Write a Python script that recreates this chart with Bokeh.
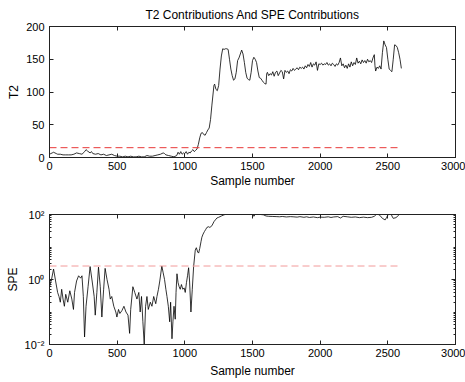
from bokeh.plotting import figure
from bokeh.layouts import column
from bokeh.models import FixedTicker, LinearAxis, LogAxis, Range1d
from bokeh.embed import file_html
from bokeh.resources import INLINE

# ---------------- data ----------------
t2_x = [0, 10, 20, 30, 40, 50, 60, 80, 100, 120, 140, 160, 180, 200, 220, 240, 260, 270, 280, 300,
        310, 320, 340, 360, 380, 400, 420, 440, 460, 480, 500, 520, 540, 560, 580, 600, 620, 640, 660, 680,
        700, 720, 740, 760, 780, 800, 820, 840, 850, 860, 880, 900, 920, 940, 950, 960, 970, 980, 990, 1000,
        1010, 1020, 1030, 1040, 1050, 1060, 1070, 1080, 1090, 1100, 1110, 1120, 1130, 1140, 1150, 1160, 1170, 1180, 1190, 1200,
        1210, 1215, 1220, 1230, 1240, 1250, 1260, 1270, 1280, 1290, 1300, 1310, 1320, 1330, 1340, 1350, 1360, 1370, 1380, 1390,
        1400, 1410, 1420, 1430, 1440, 1450, 1460, 1470, 1480, 1490, 1500, 1510, 1520, 1530, 1540, 1550, 1560, 1570, 1580, 1590,
        1600, 1605, 1610, 1620, 1630, 1640, 1650, 1660, 1670, 1680, 1690, 1700, 1710, 1720, 1730, 1740, 1750, 1760, 1770, 1780,
        1790, 1800, 1810, 1820, 1830, 1840, 1850, 1860, 1870, 1880, 1890, 1900, 1910, 1920, 1930, 1940, 1950, 1960, 1970, 1980,
        1990, 2000, 2010, 2020, 2030, 2040, 2050, 2060, 2070, 2080, 2090, 2100, 2110, 2120, 2130, 2140, 2150, 2160, 2170, 2180,
        2190, 2200, 2210, 2220, 2230, 2240, 2250, 2260, 2270, 2280, 2290, 2300, 2310, 2320, 2330, 2340, 2350, 2360, 2370, 2380,
        2390, 2400, 2405, 2410, 2420, 2430, 2440, 2450, 2460, 2470, 2480, 2490, 2500, 2510, 2520, 2530, 2540, 2550, 2560, 2570,
        2580, 2590, 2600]
t2_y = [5, 6, 7, 8, 7, 6, 5, 5, 4, 4, 4, 4, 5, 7, 6, 5, 9, 12, 10, 7,
        9, 6, 5, 6, 4, 5, 3, 4, 5, 3, 2, 2, 1, 2, 1, 2, 1, 1, 2, 1,
        1, 3, 2, 2, 3, 4, 5, 7, 6, 4, 3, 2, 1, 3, 8, 5, 9, 5, 7, 6,
        9, 5, 8, 7, 10, 12, 9, 11, 13, 20, 30, 37, 38, 35, 34, 38, 42, 45, 58, 80,
        100, 110, 112, 104, 102, 110, 135, 155, 166, 165, 166, 166, 165, 150, 135, 125, 118, 120, 130, 148,
        152, 158, 164, 158, 145, 130, 121, 119, 118, 130, 148, 153, 150, 145, 132, 122, 121, 118, 115, 113,
        112, 128, 130, 125, 128, 126, 131, 124, 130, 132, 125, 129, 133, 131, 120, 133, 130, 132, 128, 134,
        132, 136, 133, 135, 137, 134, 138, 136, 138, 135, 140, 137, 142, 139, 145, 138, 143, 141, 146, 133,
        143, 142, 144, 141, 143, 142, 145, 141, 143, 140, 144, 142, 139, 143, 141, 145, 152, 140, 143, 137,
        141, 136, 143, 138, 146, 140, 145, 142, 152, 144, 147, 143, 149, 145, 148, 144, 150, 146, 148, 145,
        152, 157, 140, 132, 138, 136, 140, 135, 160, 178, 172, 168, 150, 135, 133, 131, 150, 172, 171, 168,
        160, 150, 136]

spe_x = [0, 15, 30, 45, 60, 70, 80, 90, 100, 110, 120, 135, 150, 165, 177, 185, 200, 215, 230, 240,
         250, 259, 270, 285, 300, 315, 330, 338, 350, 362, 375, 387, 400, 411, 425, 440, 449, 460, 475, 490,
         498, 510, 520, 535, 550, 565, 580, 592, 600, 616, 630, 646, 660, 670, 680, 690, 700, 710, 720, 730,
         745, 757, 770, 785, 794, 805, 815, 830, 840, 850, 860, 868, 878, 888, 895, 905, 912, 920, 929, 935,
         942, 950, 958, 966, 975, 985, 995, 1003, 1012, 1020, 1028, 1035, 1045, 1055, 1065, 1077, 1085, 1095, 1102, 1110,
         1120, 1126, 1135, 1145, 1155, 1163, 1175, 1185, 1200, 1215, 1230, 1237, 1250, 1270, 1290, 1310, 1330, 1360, 1380, 1400,
         1420, 1440, 1460, 1480, 1500, 1510, 1520, 1540, 1560, 1580, 1600, 1620, 1650, 1680, 1700, 1720, 1750, 1780, 1800, 1830,
         1850, 1880, 1900, 1920, 1950, 1980, 2000, 2030, 2060, 2080, 2100, 2130, 2150, 2170, 2200, 2230, 2260, 2290, 2320, 2350,
         2380, 2400, 2420, 2440, 2460, 2480, 2490, 2500, 2510, 2520, 2530, 2540, 2560, 2580, 2600]
spe_y = [0.6, 1.0, 2.1, 0.9, 0.4, 0.3, 0.2, 0.5, 0.25, 0.15, 0.35, 0.2, 0.45, 0.25, 0.12, 0.4, 0.9, 1.3, 1.1, 1.3,
         0.3, 0.017, 0.15, 0.6, 2.5, 0.9, 0.3, 0.08, 0.4, 2.4, 0.6, 0.07, 0.5, 2.2, 1.0, 0.5, 0.25, 0.3, 0.15, 0.1,
         0.07, 0.12, 0.09, 0.11, 0.15, 0.1, 0.08, 0.022, 0.12, 0.6, 0.4, 0.25, 0.4, 0.1, 0.3, 0.05, 0.01, 0.15, 0.3, 0.12,
         0.2, 0.15, 0.3, 0.18, 0.3, 0.5, 0.9, 2.6, 1.6, 1.0, 0.5, 0.3, 0.15, 0.05, 0.2, 0.015, 0.05, 0.15, 0.06, 0.4,
         1.5, 0.8, 0.6, 0.5, 0.7, 0.5, 0.55, 0.4, 0.8, 1.3, 2.3, 0.9, 0.1, 0.5, 2.5, 8.0, 9.5, 7.0, 6.5, 9.0,
         15, 20, 25, 30, 35, 40, 42, 40, 45, 60, 72, 78, 82, 90, 98, 102, 106, 110, 104, 108,
         100, 104, 108, 100, 104, 88, 100, 106, 100, 98, 90, 88, 87, 86, 85, 87, 84, 86, 85, 83,
         86, 82, 85, 81, 84, 80, 83, 82, 85, 81, 84, 86, 78, 88, 85, 82, 84, 80, 83, 80,
         82, 88, 105, 95, 76, 68, 80, 95, 115, 120, 90, 76, 80, 95, 112]

t2_limit = 15
spe_limit = 2.6

x_ticks = [0, 500, 1000, 1500, 2000, 2500, 3000]
t2_ticks = [0, 50, 100, 150, 200]
spe_ticks = [0.01, 1, 100]
spe_tick_labels = {0.01: "10\u207b\u00b2", 1: "10\u2070", 100: "10\u00b2"}

FONT = "Liberation Sans"
LINE_COLOR = "#000000"


def style_axis(ax, ticks=None, labels=True, label_standoff=4, title_standoff=1):
    ax.major_tick_in = 4
    ax.major_tick_out = 0
    ax.minor_tick_in = 0
    ax.minor_tick_out = 0
    ax.axis_line_color = "#222222"
    ax.major_tick_line_color = "#222222"
    ax.minor_tick_line_color = "#222222"
    ax.major_label_text_font = FONT
    ax.axis_label_text_font = FONT
    ax.axis_label_text_font_style = "normal"
    ax.axis_label_text_font_size = "12px"
    ax.axis_label_text_color = "#000000"
    ax.major_label_text_color = "#000000"
    ax.major_label_text_font_size = "11px"
    if labels:
        ax.major_label_standoff = label_standoff
        ax.axis_label_standoff = title_standoff
    else:
        ax.major_label_overrides = {t: "" for t in ticks}
        ax.major_label_text_color = None
        ax.major_label_standoff = 0
        ax.axis_label_standoff = 0


# ---------------- top plot: T2 ----------------
p1 = figure(width=465, height=190, output_backend="svg", toolbar_location=None,
            x_range=Range1d(0, 3000), y_range=Range1d(0, 200),
            min_border_left=49, min_border_right=10, min_border_top=25, min_border_bottom=33,
            title="T2 Contributions And SPE Contributions")
p1.title.align = "center"
p1.title.text_font = FONT
p1.title.text_font_size = "12px"
p1.title.text_font_style = "normal"
p1.title.text_color = "#000000"
p1.grid.visible = False
p1.outline_line_color = "#222222"
p1.background_fill_color = "white"
p1.border_fill_color = "white"

p1.line(t2_x, t2_y, line_color=LINE_COLOR, line_width=0.8)
p1.line([t2_x[0], t2_x[-1]], [t2_limit, t2_limit], line_color="#e83838",
        line_width=1, line_dash="7 4")

p1.xaxis.ticker = FixedTicker(ticks=x_ticks)
p1.yaxis.ticker = FixedTicker(ticks=t2_ticks)
p1.xaxis.axis_label = "Sample number"
p1.yaxis.axis_label = "T2"
style_axis(p1.xaxis[0], label_standoff=4, title_standoff=1)
style_axis(p1.yaxis[0], label_standoff=5, title_standoff=2)

top1 = LinearAxis(ticker=FixedTicker(ticks=x_ticks))
right1 = LinearAxis(ticker=FixedTicker(ticks=t2_ticks))
style_axis(top1, x_ticks, labels=False)
style_axis(right1, t2_ticks, labels=False)
p1.add_layout(top1, "above")
p1.add_layout(right1, "right")

# ---------------- bottom plot: SPE ----------------
minor = []
for e in range(-2, 2):
    for m in range(2, 10):
        minor.append(m * 10.0 ** e)
minor += [0.1, 10]

p2 = figure(width=465, height=192, output_backend="svg", toolbar_location=None,
            x_range=Range1d(0, 3000), y_range=Range1d(0.01, 100), y_axis_type="log",
            min_border_left=49, min_border_right=10, min_border_top=24, min_border_bottom=38)
p2.grid.visible = False
p2.outline_line_color = "#222222"
p2.background_fill_color = "white"
p2.border_fill_color = "white"

p2.line(spe_x, spe_y, line_color=LINE_COLOR, line_width=0.8)
p2.line([spe_x[0], spe_x[-1]], [spe_limit, spe_limit], line_color="#f29a9a",
        line_width=1, line_dash="7 4")

p2.xaxis.ticker = FixedTicker(ticks=x_ticks)
p2.yaxis.ticker = FixedTicker(ticks=spe_ticks, minor_ticks=minor)
p2.yaxis.major_label_overrides = spe_tick_labels
p2.xaxis.axis_label = "Sample number"
p2.yaxis.axis_label = "SPE"
style_axis(p2.xaxis[0], label_standoff=4, title_standoff=4)
style_axis(p2.yaxis[0], label_standoff=5, title_standoff=2)
p2.yaxis[0].minor_tick_in = 2

top2 = LinearAxis(ticker=FixedTicker(ticks=x_ticks))
right2 = LogAxis(ticker=FixedTicker(ticks=spe_ticks, minor_ticks=minor))
style_axis(top2, x_ticks, labels=False)
style_axis(right2, spe_ticks, labels=False)
right2.minor_tick_in = 2
p2.add_layout(top2, "above")
p2.add_layout(right2, "right")

layout = column(p1, p2, spacing=0)
open("out.html", "w").write(file_html(layout, INLINE))
